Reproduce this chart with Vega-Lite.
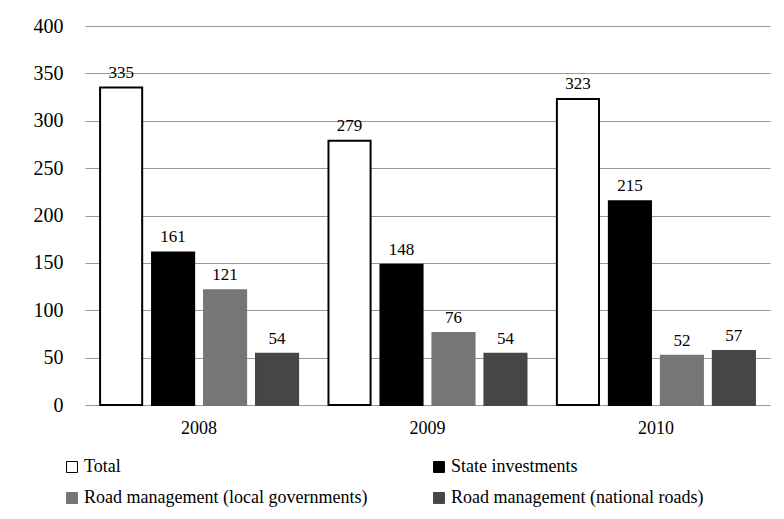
{
  "$schema": "https://vega.github.io/schema/vega-lite/v6.json",
  "autosize": "none",
  "width": 685,
  "height": 379,
  "padding": {"left": 85, "top": 26, "right": 14, "bottom": 114},
  "background": "white",
  "config": {
    "font": "Liberation Serif, Times New Roman, serif",
    "view": {"stroke": null}
  },
  "data": {
    "values": [
      {"year": "2008", "series": "Total", "value": 335},
      {"year": "2008", "series": "State investments", "value": 161},
      {"year": "2008", "series": "Road management (local governments)", "value": 121},
      {"year": "2008", "series": "Road management (national roads)", "value": 54},
      {"year": "2009", "series": "Total", "value": 279},
      {"year": "2009", "series": "State investments", "value": 148},
      {"year": "2009", "series": "Road management (local governments)", "value": 76},
      {"year": "2009", "series": "Road management (national roads)", "value": 54},
      {"year": "2010", "series": "Total", "value": 323},
      {"year": "2010", "series": "State investments", "value": 215},
      {"year": "2010", "series": "Road management (local governments)", "value": 52},
      {"year": "2010", "series": "Road management (national roads)", "value": 57}
    ]
  },
  "encoding": {
    "x": {
      "field": "year", "type": "nominal",
      "scale": {"paddingInner": 0.133, "paddingOuter": 0.066},
      "axis": {"title": null, "labelAngle": 0, "labelFontSize": 18, "labelColor": "black", "ticks": false, "domainColor": "#999999", "labelPadding": 14}
    },
    "xOffset": {
      "field": "series", "type": "nominal",
      "sort": ["Total", "State investments", "Road management (local governments)", "Road management (national roads)"],
      "scale": {"paddingInner": 0.19, "paddingOuter": 0}
    },
    "y": {
      "field": "value", "type": "quantitative",
      "scale": {"domain": [0, 400]},
      "axis": {"title": null, "values": [0,50,100,150,200,250,300,350,400], "labelFontSize": 20, "labelColor": "black", "ticks": false, "domain": false, "gridColor": "#999999", "labelPadding": 22}
    }
  },
  "layer": [
    {
      "mark": {"type": "bar", "strokeWidth": 2},
      "encoding": {
        "fill": {
          "field": "series", "type": "nominal",
          "sort": ["Total", "State investments", "Road management (local governments)", "Road management (national roads)"],
          "scale": {"domain": ["Total", "State investments", "Road management (local governments)", "Road management (national roads)"], "range": ["#ffffff", "#000000", "#767676", "#464646"]},
          "legend": {
            "title": null, "orient": "none", "legendX": -22, "legendY": 432,
            "direction": "horizontal", "columns": 2, "columnPadding": 62, "rowPadding": 13,
            "labelFontSize": 18, "labelColor": "black", "labelLimit": 400,
            "symbolType": "square", "symbolSize": 120, "symbolStrokeWidth": 1, "symbolOffset": 0, "labelOffset": 3
          }
        },
        "stroke": {
          "field": "series", "type": "nominal",
          "sort": ["Total", "State investments", "Road management (local governments)", "Road management (national roads)"],
          "scale": {"domain": ["Total", "State investments", "Road management (local governments)", "Road management (national roads)"], "range": ["#000000", "#000000", "#767676", "#464646"]},
          "legend": null
        }
      }
    },
    {
      "mark": {"type": "text", "baseline": "alphabetic", "dy": -10, "fontSize": 17, "color": "black"},
      "encoding": {"text": {"field": "value", "type": "quantitative"}}
    }
  ]
}
